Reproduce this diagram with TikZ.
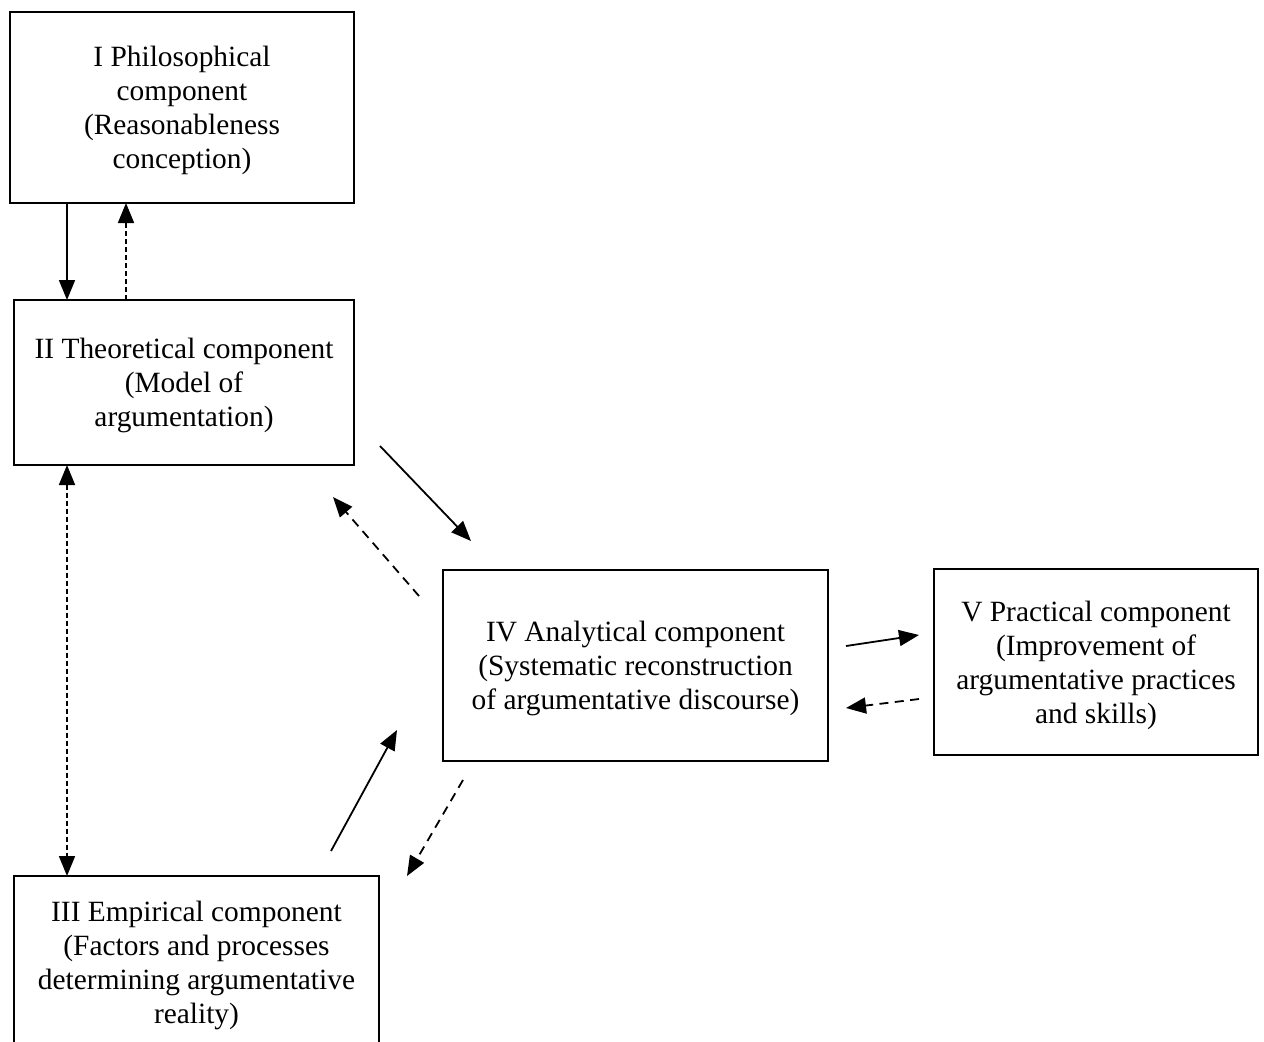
\documentclass[tikz,border=0pt]{standalone}
\usepackage{fontspec}
\setmainfont{Liberation Serif}
\usetikzlibrary{arrows.meta}
\begin{document}
\begin{tikzpicture}[x=0.5pt,y=-0.5pt,
  compbox/.style={draw,line width=0.7pt,inner sep=0pt},
  comptext/.style={align=center,inner sep=0pt,yshift=-1.5pt,
    font=\fontsize{14.7}{17}\selectfont},
  arr/.style={line width=0.9pt,-{Triangle[length=10pt,width=8pt]}},
  arrboth/.style={line width=0.9pt,{Triangle[length=10pt,width=8pt]}-{Triangle[length=10pt,width=8pt]}},
  vdash/.style={dash pattern=on 2.5pt off 1.5pt},
  ddash/.style={dash pattern=on 4.5pt off 3.2pt}]
\clip (0,0) rectangle (1264,1041);
\useasboundingbox (0,0) rectangle (1264,1041);
\node[compbox,minimum width=172pt,minimum height=95.5pt] (I) at (182,107.5) {};
\node[comptext] (It) at (I.center)
  {I Philosophical\\component\\(Reasonableness\\conception)};
\node[compbox,minimum width=170pt,minimum height=82.5pt] (II) at (184,382.5) {};
\node[comptext] (IIt) at (II.center)
  {II Theoretical component\\(Model of\\argumentation)};
\node[compbox,minimum width=182.5pt,minimum height=86pt] (III) at (196.5,962) {};
\node[comptext] (IIIt) at (III.center)
  {III Empirical component\\(Factors and processes\\determining argumentative\\reality)};
\node[compbox,minimum width=192.5pt,minimum height=95.5pt] (IV) at (635.5,665.5) {};
\node[comptext] (IVt) at (IV.center)
  {IV Analytical component\\(Systematic reconstruction\\of argumentative discourse)};
\node[compbox,minimum width=162pt,minimum height=93pt] (V) at (1096,662) {};
\node[comptext] (Vt) at (V.center)
  {V Practical component\\(Improvement of\\argumentative practices\\and skills)};
% endpoints
\coordinate (a1) at (67,203);   \coordinate (a2) at (67,300);
\coordinate (b1) at (126,300);  \coordinate (b2) at (126,203);
\coordinate (c1) at (67,465);   \coordinate (c2) at (67,876);
\coordinate (d1) at (380,446);  \coordinate (d2) at (471,541);
\coordinate (e1) at (419,596);  \coordinate (e2) at (333,497);
\coordinate (f1) at (331,851);  \coordinate (f2) at (397,730);
\coordinate (g1) at (463,780);  \coordinate (g2) at (407,876);
\coordinate (h1) at (846,646);  \coordinate (h2) at (919,635);
\coordinate (k1) at (919,699);  \coordinate (k2) at (846,708);
\draw[arr] (a1) -- (a2);
\draw[arr,vdash] (b1) -- (b2);
\draw[arrboth,vdash] (c1) -- (c2);
\draw[arr] (d1) -- (d2);
\draw[arr,ddash] (e1) -- (e2);
\draw[arr] (f1) -- (f2);
\draw[arr,ddash] (g1) -- (g2);
\draw[arr] (h1) -- (h2);
\draw[arr,ddash] (k1) -- (k2);
\end{tikzpicture}
\end{document}
